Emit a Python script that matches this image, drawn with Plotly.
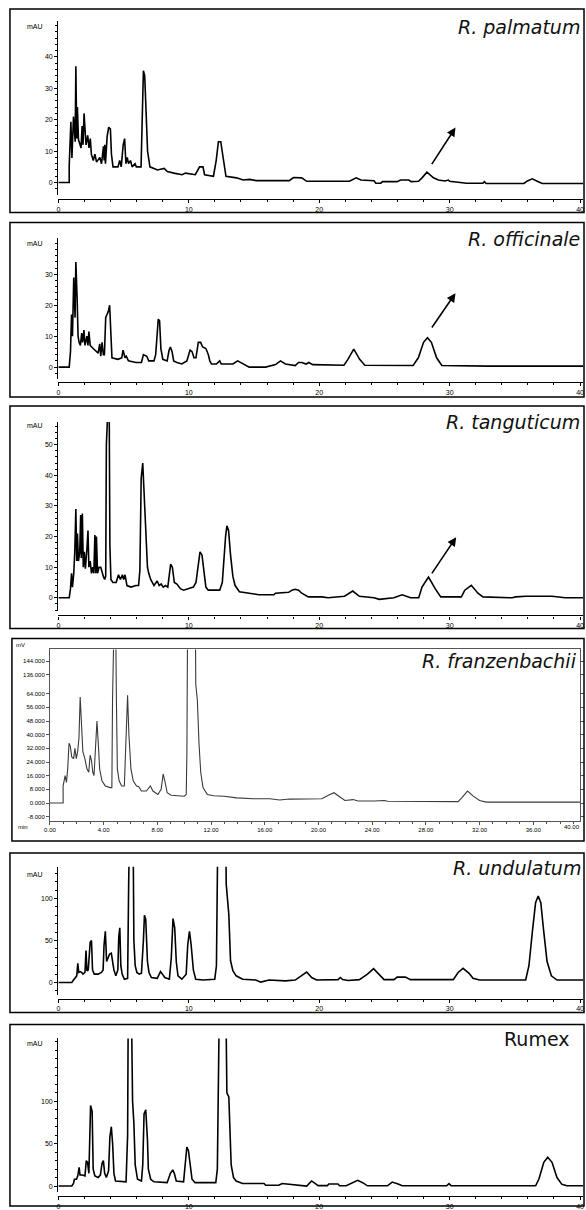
import plotly.graph_objects as go

W, H = 586, 1210

# ---------------- data (retention time in min, signal) ----------------
x_ticks = [0, 10, 20, 30, 40]
franz_x_ticks = [0, 4, 8, 12, 16, 20, 24, 28, 32, 36]
franz_y_ticks = [-8, 0, 8, 16, 24, 32, 40, 48, 56, 64, 136, 144]

palmatum = [(0,0),(0.83,0),(0.83,5.2),(0.96,19.3),(1.04,7.8),(1.16,21),(1.29,13),(1.34,37),(1.41,14),(1.46,24),
    (1.54,13.7),(1.74,11),(1.82,18),(1.89,12),(1.97,22),(2.05,18),(2.12,12),(2.25,15),(2.35,11),(2.45,14),(2.53,9),
    (2.68,7),(2.80,9),(2.93,6.5),(3.18,8),(3.31,6),(3.46,11.5),(3.51,7),(3.56,12),(3.61,6),(3.74,14.7),(3.86,17.6),
    (3.99,17),(4.07,9),(4.19,5),(4.57,5),(4.70,7),(4.82,5),(4.97,12),(5.08,14),(5.18,6),(5.28,8),(5.38,6),(5.53,7),
    (5.66,5),(5.88,6),(5.98,5),(6.34,5),(6.41,16),(6.52,35.6),(6.62,34),(6.72,24),(6.84,10),(7.02,5),(7.60,4),
    (8.11,4.5),(8.36,3.5),(8.86,3),(9.49,2.5),(9.75,3),(10.5,2.5),(10.83,5),(11.09,5),(11.21,2.5),(11.89,2),(12.10,7),
    (12.27,13),(12.45,13),(12.65,7),(12.85,2),(13.66,1.5),(14.17,0.8),(14.67,1),(15.18,0.6),(17.7,0.6),(18.03,1.6),
    (18.66,1.5),(19.04,0.4),(22.32,0.4),(22.57,1.0),(22.83,1.5),(23.2,0.8),(24.2,0.6),(24.34,-0.2),(24.72,-0.2),
    (24.85,0.3),(25.98,0.3),(26.24,0.8),(26.87,0.8),(27.04,0.3),(27.62,0.4),(27.88,1.5),(28.26,3.3),(28.76,1.5),
    (29.14,0.8),(29.64,0.5),(29.9,0.8),(30.0,0.4),(31.29,-0.2),(32.55,-0.2),(32.67,0.3),(32.8,-0.3),(35.7,-0.3),
    (35.96,0.5),(36.34,1.2),(36.84,0.2),(37.1,-0.3),(40.4,-0.3)]

officinale = [(0,0),(0.83,0),(0.93,5),(1.01,17),(1.08,10),(1.18,29),(1.28,16),(1.34,34),(1.44,22),(1.51,10),(1.59,8),
    (1.69,7),(1.79,11),(1.86,8),(1.96,12),(2.04,7),(2.19,10),(2.27,7),(2.34,11.5),(2.44,7),(2.67,6),(2.92,5),(3.05,4.5),
    (3.17,7.5),(3.25,3.5),(3.35,8),(3.45,4),(3.53,4),(3.63,16),(3.73,17),(3.83,18),(3.93,20),(4.01,9),(4.11,3),
    (4.56,2.5),(4.86,3),(4.96,5.5),(5.11,3),(5.21,3.5),(5.37,2),(5.94,1.5),(6.37,1.5),(6.52,4),(6.78,3.5),(6.93,2),
    (7.33,2),(7.46,4),(7.58,11),(7.66,15.5),(7.76,15),(7.86,6),(8.01,2.5),(8.34,2),(8.49,5.5),(8.59,6.5),(8.72,5),
    (8.84,2),(9.09,1.5),(9.47,1),(9.85,2),(10.1,5.5),(10.25,5),(10.4,3),(10.55,3),(10.73,8),(10.91,8),(11.06,6.5),
    (11.31,6),(11.5,4),(11.61,2),(11.74,1),(12.12,1),(12.37,2),(12.49,1),(13.38,1),(13.75,2),(14.0,1.5),(14.38,0.5),
    (14.63,0),(15.89,0),(16.65,0.8),(17.03,2),(17.41,1),(18.16,0.5),(18.41,1.5),(18.66,1.5),(19.0,1.0),(19.2,1.5),
    (19.5,0.8),(21.9,0.6),(22.2,2.5),(22.65,5.8),(23.1,2.5),(23.5,0.6),(27.2,0.5),(27.6,3),(28.0,8),(28.3,9.5),
    (28.6,8),(29.0,3),(29.4,0.5),(33.0,0.3),(40.4,0.3)]

tanguticum = [(0,0),(0.83,0),(0.93,3),(1.01,8),(1.08,3.5),(1.18,8),(1.26,15),(1.34,29),(1.41,12),(1.46,21),(1.54,12),
    (1.64,15),(1.71,27),(1.76,13),(1.84,27.5),(1.91,10),(1.99,15),(2.07,9.5),(2.19,16),(2.27,22),(2.34,10),(2.44,12),
    (2.54,8),(2.64,10),(2.72,8),(2.80,20.5),(2.87,8),(2.92,20),(3.0,8),(3.12,10),(3.25,10),(3.35,8),(3.45,7),(3.55,6),
    (3.63,7),(3.68,50),(3.78,60),(3.9,60),(3.95,17),(4.03,6),(4.18,5),(4.43,5),(4.61,7.5),(4.76,6),(4.91,7.5),(5.01,6),
    (5.11,7.5),(5.26,4),(5.57,3.5),(5.94,4),(6.15,4),(6.25,9),(6.35,39),(6.47,44),(6.57,34),(6.7,26),(6.83,10),
    (6.93,8),(7.08,6),(7.33,4),(7.58,5.5),(7.73,4),(7.88,4.5),(8.04,3.5),(8.21,4),(8.39,3.5),(8.51,9),(8.61,11),
    (8.74,10),(8.89,5),(9.09,4.5),(9.35,3),(9.6,2.5),(9.97,3),(10.35,3.5),(10.55,5),(10.73,12),(10.86,15),(11.01,14),
    (11.16,8),(11.31,3.5),(11.49,2.5),(12.37,2.5),(12.57,5),(12.7,15),(12.82,20),(12.92,23.5),(13.05,22),(13.2,14),
    (13.38,7),(13.55,4),(13.88,2),(14.63,1.5),(15.39,1),(16.52,1),(16.65,1.5),(17.66,1.8),(17.91,2.5),(18.16,2.8),
    (18.41,2.5),(18.66,1.5),(19.17,0.3),(20.2,0.3),(20.68,0),(21.94,0.5),(22.57,2.2),(23.08,0.5),(24.2,0),(24.6,-0.5),
    (25.73,0),(26.36,1),(27.0,0),(27.63,0),(27.88,3.5),(28.38,6.8),(28.89,3),(29.32,0.3),(30.9,0.3),(31.16,2.5),
    (31.66,4.1),(32.17,1.5),(32.55,0.3),(34.8,0),(35.07,0.3),(35.83,0.5),(37.85,0.5),(38.86,0),(40.4,0)]

franzenbachii = [(0,0),(0.98,0),(0.98,10),(1.13,16),(1.23,12),(1.32,20),(1.42,35),(1.52,33),(1.62,27),(1.76,26),
    (1.86,32),(1.96,26),(2.06,30),(2.16,38),(2.25,62),(2.35,45),(2.45,30),(2.6,26),(2.75,20),(2.89,18),(2.99,28),
    (3.09,25),(3.19,18),(3.28,16),(3.38,28),(3.5,48),(3.6,35),(3.7,20),(3.87,13),(4.12,10),(4.49,9),(4.61,9),(4.66,60),
    (4.73,200),(4.85,200),(4.95,60),(5.02,20),(5.15,13),(5.34,10),(5.54,10),(5.66,40),(5.78,63),(5.88,40),(6.03,20),
    (6.2,13),(6.45,10),(6.62,9.6),(6.81,7),(7.18,7),(7.48,10),(7.67,7),(8.04,5),(8.28,8),(8.43,17),(8.58,12),(8.73,6),
    (9.02,4.5),(10.0,4),(10.15,5),(10.2,30),(10.27,200),(10.81,200),(10.86,100),(10.98,60),(11.1,35),(11.23,18),
    (11.4,9),(11.72,5),(12.21,4.2),(12.94,4),(13.92,3),(15.15,2.5),(16.37,2.5),(17.11,1.8),(17.84,2.3),(19.27,2.5),
    (20.25,2.5),(20.74,4.5),(21.16,6),(21.6,3.5),(21.97,1.5),(22.58,2),(22.95,1.2),(24.17,1.2),(24.9,1.5),(25.15,1),
    (27.6,0.8),(30.4,0.8),(30.67,3),(31.1,7),(31.53,4),(32.0,1.5),(32.5,0.5),(38.6,0.4),(39.5,0.5)]

undulatum = [(0,0),(1.03,0),(1.16,3),(1.28,5),(1.41,8),(1.49,23),(1.56,12),(1.66,13),(1.79,12),(1.89,10),(2.04,12),
    (2.12,38),(2.19,14),(2.29,15),(2.44,48),(2.54,50),(2.62,15),(2.75,10),(3.05,10),(3.3,12),(3.43,15),(3.5,44),
    (3.6,61),(3.7,25),(3.8,30),(3.93,34),(4.06,35),(4.16,25),(4.26,15),(4.41,8),(4.56,15),(4.63,54),(4.71,65),
    (4.79,20),(4.89,10),(5.06,4),(5.31,5),(5.39,117),(5.47,200),(5.72,200),(5.79,50),(5.89,20),(6.02,12),(6.2,10),
    (6.37,11),(6.52,50),(6.6,80),(6.7,75),(6.83,25),(6.95,12),(7.13,6),(7.58,5),(7.83,13),(7.98,10),(8.16,6),(8.51,4),
    (8.66,30),(8.79,76),(8.92,65),(9.04,25),(9.17,8),(9.47,4),(9.8,10),(9.92,45),(10.05,61),(10.18,45),(10.35,15),
    (10.53,4),(11.11,3),(11.99,4),(12.12,20),(12.24,200),(12.82,200),(12.87,117),(13.07,81),(13.2,26),(13.38,14),
    (13.63,8),(14.13,4),(15.14,3),(15.52,0.5),(16.15,3),(17.41,2),(18.16,3),(18.66,8),(19.04,12.5),(19.42,6),
    (19.8,3),(21.44,3.5),(21.62,6),(21.8,3.5),(22.2,2.5),(23.08,3.5),(23.7,10),(24.17,16.5),(24.6,9),(24.97,3.5),
    (25.73,3.5),(25.98,6.5),(26.6,6.5),(27.0,3.5),(30.28,3.5),(30.65,12),(31.03,17),(31.49,11),(31.79,5),(32.3,3),
    (35.83,3),(36.08,20),(36.34,60),(36.59,95),(36.79,103),(36.99,95),(37.22,60),(37.47,25),(37.8,8),(38.23,3),
    (40.4,3)]

rumex = [(0,0),(1.03,0),(1.16,3),(1.23,8),(1.39,8),(1.49,12),(1.59,22),(1.66,13),(1.84,13),(2.04,12),(2.14,30),
    (2.24,28),(2.34,15),(2.47,95),(2.59,88),(2.67,20),(2.8,12),(3.05,10),(3.22,13),(3.35,27),(3.45,30),(3.55,15),
    (3.68,10),(3.85,18),(3.95,58),(4.06,70),(4.16,50),(4.26,15),(4.38,6),(5.19,5),(5.31,60),(5.37,250),(5.57,250),
    (5.69,100),(5.79,74),(5.89,25),(6.07,8),(6.37,6),(6.47,25),(6.57,85),(6.7,90),(6.83,55),(6.9,20),(7.08,8),(7.33,5),
    (8.34,4),(8.59,15),(8.77,19),(8.89,15),(9.04,6),(9.6,5),(9.72,28),(9.85,46),(9.97,42),(10.1,28),(10.25,8),
    (10.48,4),(12.07,4),(12.19,20),(12.27,111),(12.37,250),(12.82,250),(12.92,110),(13.07,105),(13.15,55),(13.25,25),
    (13.43,10),(13.63,6),(14.13,3),(15.77,3),(15.89,1),(16.9,1),(17.15,3),(17.41,2.5),(18.66,1),(19.04,0),(19.42,6),
    (19.92,0.5),(20.63,0.5),(20.73,2.4),(21.44,2.4),(21.56,0.3),(22.07,0.3),(22.45,3),(22.95,6.7),(23.33,4),
    (23.7,0.3),(25.23,0.3),(25.6,4.7),(26.1,2),(26.36,0.3),(29.77,0.3),(29.95,2.8),(30.12,0.3),(36.59,0.3),
    (36.84,8),(37.22,28),(37.52,34),(37.85,28),(38.23,10),(38.61,2),(38.99,0.3),(40.4,0.3)]

# arrows (tail time, tail value, head time, head value)
arrow_palmatum = (28.56, 5.4, 30.45, 17.5)
arrow_officinale = (28.56, 12.3, 30.45, 23.9)
arrow_tanguticum = (28.56, 7.5, 30.5, 19.8)

# ---------------- helpers ----------------
def fx(p):
    return p / W

def fy(p):
    return 1 - p / H

def franz_scale(v):
    if v <= 64:
        return v
    if v <= 136:
        return 64 + (v - 64) * 11 / 72
    return v - 61

TICKFONT = dict(family="Liberation Sans, Arial", size=7, color="black")
LABELFONT = dict(family="DejaVu Sans", size=19, color="#111")

fig = go.Figure()
annotations = []
shapes = []
layout_axes = {}

mau_panels = [
    (1, palmatum, "R. palmatum", True, 9, 213, 183, 3.15, 21, 195, 199.5, [0, 10, 20, 30, 40], 2, 27, 583, 27, arrow_palmatum),
    (2, officinale, "R. officinale", True, 223, 398, 368, 3.1, 239, 380, 383, [0, 10, 20, 30], 2, 240, 583, 244, arrow_officinale),
    (3, tanguticum, "R. tanguticum", True, 407, 630, 599.3, 3.07, 423, 613, 617, [0, 10, 20, 30, 40, 50], 2, 423, 583, 427, arrow_tanguticum),
    (5, undulatum, "R. undulatum", True, 855, 1015, 985, 0.843, 869, 997, 1001, [0, 50, 100], 10, 870, 584, 877, None),
    (6, rumex, "Rumex", False, 1027, 1209, 1189, 0.85, 1041, 1195, 1199, [0, 50, 100], 10, 1042, 573, 1046, None),
]

for (i, pts, label, italic, ftop, fbot, zero, scale, ytop, ybot, xline,
     yt, ymin, laby, labr, mauy, arrow) in mau_panels:
    xa = "x" if i == 1 else f"x{i}"
    ya = "y" if i == 1 else f"y{i}"
    t = [p[0] for p in pts]
    v = [p[1] for p in pts]
    fig.add_trace(go.Scatter(x=t, y=v, xaxis=xa, yaxis=ya, mode="lines",
                             line=dict(color="black", width=1.6),
                             showlegend=False, hoverinfo="skip"))
    xname = "xaxis" if i == 1 else f"xaxis{i}"
    yname = "yaxis" if i == 1 else f"yaxis{i}"
    layout_axes[xname] = dict(
        domain=[fx(53), fx(584)], range=[0, 40 * (584 - 53) / (581 - 53)],
        anchor="free", position=fy(xline), showline=True, linecolor="black", linewidth=1.4,
        ticks="outside", ticklen=3, tickcolor="black", tickwidth=1,
        tickmode="array", tickvals=x_ticks, ticktext=[str(k) for k in x_ticks],
        tickfont=TICKFONT, showgrid=False, zeroline=False,
        minor=dict(tickmode="linear", tick0=0, dtick=2, ticks="outside", ticklen=2, tickcolor="black"),
    )
    lo = -(ybot - zero) / scale
    hi = (zero - ytop) / scale
    layout_axes[yname] = dict(
        domain=[fy(ybot), fy(ytop)], range=[lo, hi], anchor=xa,
        showline=True, linecolor="black", linewidth=1.4,
        ticks="outside", ticklen=3, tickcolor="black", tickwidth=1,
        tickmode="array", tickvals=yt, ticktext=[str(k) for k in yt],
        tickfont=TICKFONT, showgrid=False, zeroline=False,
        minor=dict(tickmode="linear", tick0=0, dtick=ymin, ticks="outside", ticklen=2, tickcolor="black"),
    )
    shapes.append(dict(type="rect", xref="paper", yref="paper",
                       x0=fx(4), x1=fx(585), y0=fy(fbot), y1=fy(ftop),
                       line=dict(color="black", width=1.5), fillcolor="rgba(0,0,0,0)"))
    txt = f"<i>{label}</i>" if italic else label
    annotations.append(dict(text=txt, xref="paper", yref="paper", x=fx(labr), y=fy(laby),
                            xanchor="right", yanchor="middle", showarrow=False, font=LABELFONT))
    annotations.append(dict(text="mAU", xref="paper", yref="paper", x=fx(29), y=fy(mauy),
                            xanchor="center", yanchor="middle", showarrow=False, font=TICKFONT))
    if arrow is not None:
        at, av, ht, hv = arrow
        annotations.append(dict(x=ht, y=hv, ax=at, ay=av, xref=xa, yref=ya, axref=xa, ayref=ya,
                                text="", showarrow=True, arrowhead=2, arrowsize=1.1,
                                arrowwidth=1.6, arrowcolor="black", standoff=0, startstandoff=0))

# ---------------- R. franzenbachii panel (broken mV axis) ----------------
ft = [p[0] for p in franzenbachii]
fv = [franz_scale(p[1]) for p in franzenbachii]
fig.add_trace(go.Scatter(x=ft, y=fv, xaxis="x4", yaxis="y4", mode="lines",
                         line=dict(color="#3a3a3a", width=1.1),
                         showlegend=False, hoverinfo="skip"))
SMALLFONT = dict(family="Liberation Sans, Arial", size=6, color="black")
layout_axes["xaxis4"] = dict(
    domain=[fx(44.5), fx(581)], range=[0, (581 - 44) / 13.6], anchor="y4",
    showline=True, mirror=True, linecolor="#555", linewidth=1,
    ticks="outside", ticklen=3, tickcolor="#555",
    tickmode="array", tickvals=franz_x_ticks, ticktext=[f"{k:.2f}" for k in franz_x_ticks],
    tickfont=SMALLFONT, showgrid=False, zeroline=False,
    minor=dict(tickmode="linear", tick0=0, dtick=1, ticks="outside", ticklen=2, tickcolor="#555"),
)
layout_axes["yaxis4"] = dict(
    domain=[fy(823), fy(651)], range=[-(823 - 805) / 1.7125, (805 - 651) / 1.7125], anchor="x4",
    showline=True, mirror="ticks", linecolor="#555", linewidth=1,
    ticks="outside", ticklen=3, tickcolor="#555",
    tickmode="array", tickvals=[franz_scale(k) for k in franz_y_ticks],
    ticktext=[f"{k:.3f}" for k in franz_y_ticks],
    tickfont=SMALLFONT, showgrid=False, zeroline=False,
)
shapes.append(dict(type="rect", xref="paper", yref="paper",
                   x0=fx(6), x1=fx(585), y0=fy(843), y1=fy(640),
                   line=dict(color="black", width=1.5), fillcolor="rgba(0,0,0,0)"))
annotations.append(dict(text="<i>R. franzenbachii</i>", xref="paper", yref="paper", x=fx(580), y=fy(663),
                        xanchor="right", yanchor="middle", showarrow=False, font=LABELFONT))
annotations.append(dict(text="mV", xref="paper", yref="paper", x=fx(15), y=fy(647),
                        xanchor="center", yanchor="middle", showarrow=False, font=SMALLFONT))
annotations.append(dict(text="min", xref="paper", yref="paper", x=fx(17), y=fy(829),
                        xanchor="center", yanchor="middle", showarrow=False, font=SMALLFONT))
annotations.append(dict(text="40.00", xref="paper", yref="paper", x=fx(573), y=fy(829),
                        xanchor="center", yanchor="middle", showarrow=False, font=SMALLFONT))

fig.update_layout(
    width=W, height=H, margin=dict(l=0, r=0, t=0, b=0),
    paper_bgcolor="white", plot_bgcolor="rgba(0,0,0,0)",
    showlegend=False, annotations=annotations, shapes=shapes,
    **layout_axes,
)

fig.write_html(
    "out.html",
    config={"displayModeBar": False},
    post_script="document.body.style.margin='0';document.body.style.overflow='hidden';",
)
